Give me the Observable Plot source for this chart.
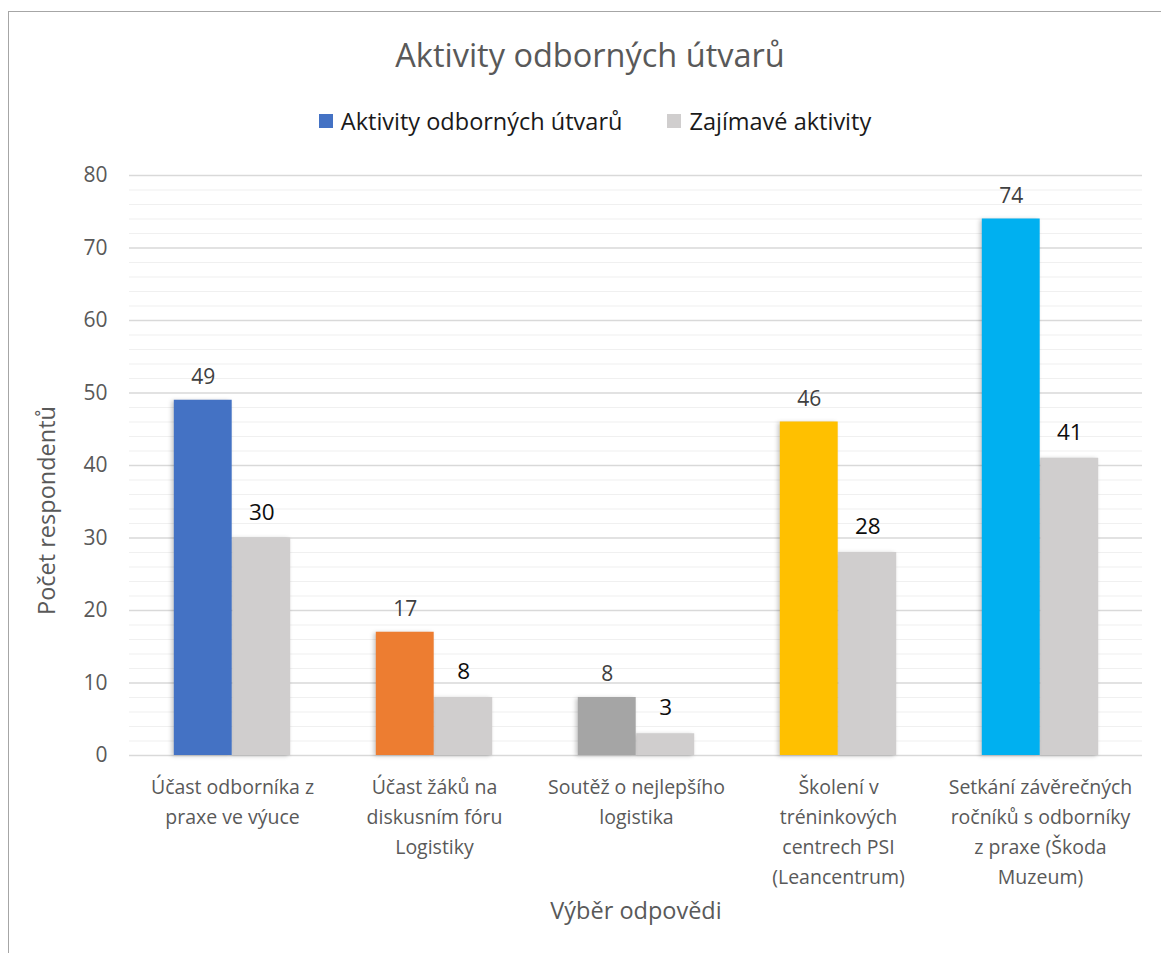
<!DOCTYPE html>
<html>
<head>
<meta charset="utf-8">
<script src="https://cdn.jsdelivr.net/npm/d3@7"></script>
<script src="https://cdn.jsdelivr.net/npm/@observablehq/plot@0.6"></script>
<style>
  html, body { margin: 0; padding: 0; background: #fff; }
  body { width: 1161px; height: 953px; position: relative; overflow: hidden; font-family: "Open Sans", sans-serif; }
  #frame { position: absolute; left: 8px; top: 11px; width: 1170px; height: 960px; border: 1.5px solid #a6a6a6; box-sizing: border-box; }
  #title { position: absolute; left: 0; width: 1180px; top: 33px; text-align: center; font-size: 32.5px; line-height: 44px; color: #595959; }
  #legend { position: absolute; left: 0; width: 1190px; top: 105px; display: flex; justify-content: center; gap: 45px; font-size: 23.5px; line-height: 32px; color: #1a1a1a; }
  #legend .item { display: flex; align-items: center; gap: 8px; }
  #legend .sw { width: 14px; height: 14px; display: inline-block; }
  #chart { position: absolute; left: 0; top: 150px; }
</style>
</head>
<body>
<div id="frame"></div>
<div id="title"></div>
<div id="legend"></div>
<div id="chart"></div>
<script>
// Survey answers: number of respondents per activity
const categories = [
  "Účast odborníka z praxe ve výuce",
  "Účast žáků na diskusním fóru Logistiky",
  "Soutěž o nejlepšího logistika",
  "Školení v tréninkových centrech PSI (Leancentrum)",
  "Setkání závěrečných ročníků s odborníky z praxe (Škoda Muzeum)"
];
const tickLabels = [
  "Účast odborníka z\npraxe ve výuce",
  "Účast žáků na\ndiskusním fóru\nLogistiky",
  "Soutěž o nejlepšího\nlogistika",
  "Školení v\ntréninkových\ncentrech PSI\n(Leancentrum)",
  "Setkání závěrečných\nročníků s odborníky\nz praxe (Škoda\nMuzeum)"
];
const seriesNames = ["Aktivity odborných útvarů", "Zajímavé aktivity"];
const odborneUtvary = [49, 17, 8, 46, 74];
const zajimaveAktivity = [30, 8, 3, 28, 41];
const barColors = ["#4472C4", "#ED7D31", "#A5A5A5", "#FFC000", "#00B0F0"];
const secondColor = "#D0CECE";
const yTicks = [0, 10, 20, 30, 40, 50, 60, 70, 80];
const yTitle = "Počet respondentů";
const xTitle = "Výběr odpovědi";
const chartTitle = "Aktivity odborných útvarů";

const rowsA = categories.map((c, i) => ({category: c, value: odborneUtvary[i], color: barColors[i]}));
const rowsB = categories.map((c, i) => ({category: c, value: zajimaveAktivity[i]}));
const labelOf = new Map(categories.map((c, i) => [c, tickLabels[i]]));

const minorTicks = d3.range(0, 81, 2).filter(v => v % 10 !== 0);

const width = 1161, height = 790;
const marginLeft = 129, marginRight = 19, marginTop = 25, marginBottom = 185;
const band = (width - marginLeft - marginRight) / categories.length;
const barW = 58.5;
const outer = band / 2 - barW;

const chart = Plot.plot({
  width, height, marginLeft, marginRight, marginTop, marginBottom,
  style: {fontFamily: "'Open Sans', sans-serif", color: "#595959", background: "transparent"},
  x: {domain: categories, padding: 0, label: null},
  y: {domain: [0, 80], label: null},
  marks: [
    Plot.ruleY(minorTicks, {stroke: "#F0F0F0", strokeWidth: 1.2}),
    Plot.ruleY(yTicks, {stroke: "#D9D9D9", strokeWidth: 1.5}),
    Plot.barY(rowsB, {x: "category", y: "value", fill: secondColor, insetLeft: band / 2, insetRight: outer}),
    Plot.barY(rowsA, {x: "category", y: "value", fill: "color", insetLeft: outer, insetRight: band / 2}),
    Plot.axisY({ticks: yTicks, tickSize: 0, tickPadding: 22, fontSize: 21, fill: "#595959", label: null}),
    Plot.axisX({tickSize: 0, tickPadding: 17, fontSize: 19.5, lineHeight: 30 / 19.5, fill: "#595959", tickFormat: d => labelOf.get(d), label: null}),
    Plot.text(rowsA, {x: "category", y: "value", text: d => String(d.value), dx: -barW / 2, dy: -16.5, lineAnchor: "bottom", fontSize: 21, fill: "#404040"}),
    Plot.text(rowsB, {x: "category", y: "value", text: d => String(d.value), dx: barW / 2, dy: -18.5, lineAnchor: "bottom", fontSize: 22.5, fill: "#0d0d0d"}),
    Plot.text([yTitle], {frameAnchor: "left", textAnchor: "middle", rotate: -90, dx: -82, dy: 45, fontSize: 23.5, fill: "#595959"}),
    Plot.text([xTitle], {frameAnchor: "bottom", dy: 163, fontSize: 23.5, fill: "#595959"})
  ]
});

// soft shadow under the bars
d3.select(chart).selectAll("g[aria-label='bar']").style("filter", "drop-shadow(-2px 1px 2px rgba(0,0,0,0.22))");

document.getElementById("chart").appendChild(chart);
document.getElementById("title").textContent = chartTitle;

const legend = d3.select("#legend");
[[seriesNames[0], barColors[0]], [seriesNames[1], secondColor]].forEach(([name, color]) => {
  const item = legend.append("div").attr("class", "item");
  item.append("span").attr("class", "sw").style("background", color);
  item.append("span").text(name);
});
</script>
</body>
</html>
